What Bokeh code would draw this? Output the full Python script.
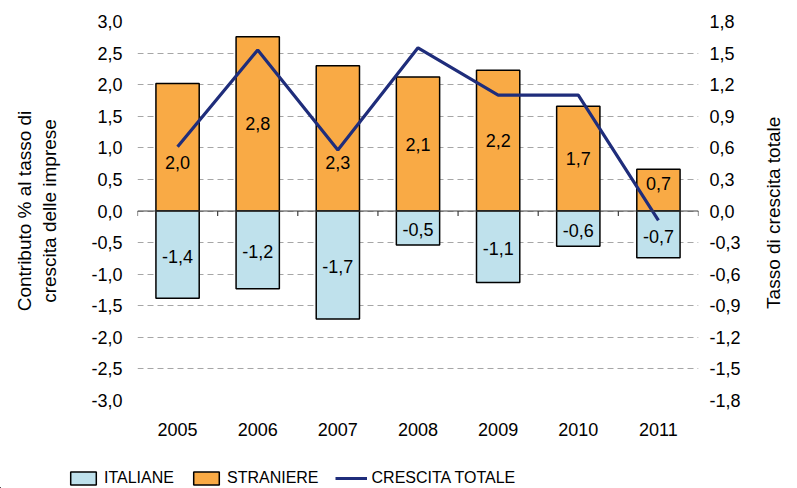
import math
from bokeh.plotting import figure
from bokeh.layouts import column
from bokeh.models import (Range1d, LinearAxis, FixedTicker, CustomJSTickFormatter,
                          Span, Legend, LegendItem)
from bokeh.embed import file_html
from bokeh.resources import INLINE
from bokeh.core.properties import value

# ---- data ----
years = ["2005", "2006", "2007", "2008", "2009", "2010", "2011"]
italiane = [-1.38, -1.23, -1.71, -0.54, -1.13, -0.56, -0.74]
straniere = [2.02, 2.76, 2.30, 2.12, 2.23, 1.66, 0.66]
crescita_totale = [0.61, 1.53, 0.58, 1.55, 1.10, 1.10, -0.09]
left_ticks = [i / 10 for i in range(-30, 31, 5)]
right_ticks = [i * 3 / 10 for i in range(-6, 7)]
series_names = ["ITALIANE", "STRANIERE", "CRESCITA TOTALE"]
left_title = "Contributo % al tasso di\ncrescita delle imprese"
right_title = "Tasso di crescita totale"

# ---- style ----
FONT = "Liberation Sans"
ORANGE = "#F9AA45"
BLUE = "#BFE1EC"
NAVY = "#1F2D7B"
# manual shift of the STRANIERE labels (as in the original, data units)
label_shift = [-0.24, 0.0, -0.38, 0.0, 0.0, 0.0, 0.10]
RIGHT_TITLE_ANCHOR = -0.93   # start of the rotated right title, in right-axis units

fmt = lambda v: f"{v:.1f}".replace(".", ",")
xs = [i + 0.5 for i in range(len(years))]
bounds = list(range(len(years) + 1))

W = 797
p = figure(width=W, height=445, x_range=Range1d(0, len(years)), y_range=Range1d(-3, 3),
           output_backend="svg", toolbar_location=None,
           min_border_left=137, min_border_right=W - 704, min_border_top=21, min_border_bottom=45)
p.outline_line_color = None
p.extra_y_ranges = {"right": Range1d(-1.8, 1.8)}

# axes
yl = p.yaxis[0]
yl.ticker = FixedTicker(ticks=left_ticks)
yl.formatter = CustomJSTickFormatter(code="return tick.toFixed(1).replace('.', ',');")
yr = LinearAxis(y_range_name="right", ticker=FixedTicker(ticks=right_ticks),
                formatter=CustomJSTickFormatter(code="return tick.toFixed(1).replace('.', ',');"))
p.add_layout(yr, "right")
# right title as a rotated single tick label (reads bottom-to-top like the original)
yt = LinearAxis(y_range_name="right", ticker=FixedTicker(ticks=[RIGHT_TITLE_ANCHOR]),
                major_label_overrides={RIGHT_TITLE_ANCHOR: right_title})
p.add_layout(yt, "right")

for ax, st in ((yl, 15), (yr, 11), (yt, 30)):
    ax.axis_line_color = None
    ax.major_tick_line_color = None
    ax.minor_tick_line_color = None
    ax.major_tick_out = 0
    ax.major_tick_in = 0
    ax.major_label_standoff = st
    ax.major_label_text_font = FONT
    ax.major_label_text_font_size = "18px"
    ax.major_label_text_color = "black"
yt.major_label_orientation = math.pi / 2
yt.major_label_text_font_size = "19px"

yl.axis_label = left_title
yl.axis_label_standoff = 28
yl.axis_label_text_font = FONT
yl.axis_label_text_font_size = "19px"
yl.axis_label_text_font_style = "normal"
yl.axis_label_text_color = "black"

xa = p.xaxis[0]
xa.ticker = FixedTicker(ticks=xs)
xa.major_label_overrides = {x: y for x, y in zip(xs, years)}
xa.axis_line_color = None
xa.major_tick_line_color = None
xa.minor_tick_line_color = None
xa.major_tick_out = 0
xa.major_tick_in = 0
xa.major_label_standoff = 22
xa.major_label_text_font = FONT
xa.major_label_text_font_size = "18px"
xa.major_label_text_color = "black"

p.xgrid.visible = False
p.ygrid.grid_line_color = "#a6a6a6"
p.ygrid.grid_line_dash = "6 4"

# bars
r_str = p.vbar(x=xs, top=straniere, bottom=0, width=0.54, fill_color=ORANGE,
               line_color="black", line_width=1.5)
r_ita = p.vbar(x=xs, top=italiane, bottom=0, width=0.54, fill_color=BLUE,
               line_color="black", line_width=1.5)

# zero axis line with category ticks
p.add_layout(Span(location=0, dimension="width", line_color="#404040", line_width=1.2))
p.segment(x0=bounds, y0=[0] * len(bounds), x1=bounds, y1=[-0.08] * len(bounds),
          line_color="#404040", line_width=1.2)

# total line
r_tot = p.line(x=xs, y=crescita_totale, y_range_name="right", line_color=NAVY, line_width=3.2)

# value labels
p.text(x=xs, y=[v / 2 + s for v, s in zip(straniere, label_shift)], text=[fmt(v) for v in straniere],
       text_align="center", text_baseline="middle", text_font=value(FONT),
       text_font_size="18px", text_color="black")
p.text(x=xs, y=[v / 2 - 0.03 for v in italiane], text=[fmt(v) for v in italiane],
       text_align="center", text_baseline="middle", text_font=value(FONT),
       text_font_size="18px", text_color="black")

# ---- legend strip (separate figure; proxy glyphs use the same data, kept out of view) ----
lg = figure(width=W, height=43, x_range=Range1d(1000, 1001), y_range=Range1d(1000, 1001),
            output_backend="svg", toolbar_location=None,
            x_axis_location=None, y_axis_location=None,
            min_border_left=0, min_border_right=0, min_border_top=0, min_border_bottom=0)
if "frame_align" in lg.properties():
    lg.frame_align = False
lg.outline_line_color = None
lg.grid.visible = False
l_ita = lg.vbar(x=xs, top=italiane, bottom=0, width=0.1, fill_color=BLUE,
                line_color="black", line_width=1.5)
l_str = lg.vbar(x=xs, top=straniere, bottom=0, width=0.1, fill_color=ORANGE,
                line_color="black", line_width=1.5)
l_tot = lg.line(x=xs, y=crescita_totale, line_color=NAVY, line_width=3.2)

legend = Legend(items=[LegendItem(label=series_names[0], renderers=[l_ita]),
                       LegendItem(label=series_names[1], renderers=[l_str]),
                       LegendItem(label=series_names[2], renderers=[l_tot])],
                location=(67, 0), orientation="horizontal")
legend.padding = 0
legend.margin = 0
legend.spacing = 16
legend.glyph_width = 32
legend.glyph_height = 16
legend.label_standoff = 5
legend.label_height = 20
legend.border_line_color = None
legend.background_fill_alpha = 0
legend.label_text_font = FONT
legend.label_text_font_size = "16px"
legend.label_text_color = "black"
lg.add_layout(legend)

layout = column(p, lg, spacing=0)
open("out.html", "w").write(file_html(layout, INLINE))
